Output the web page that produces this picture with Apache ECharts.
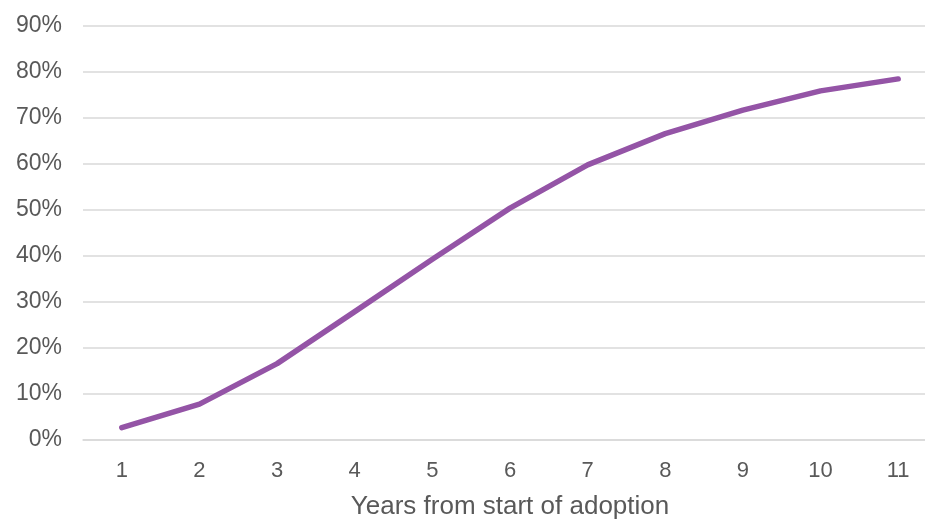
<!DOCTYPE html>
<html>
<head>
<meta charset="utf-8">
<script src="https://cdn.jsdelivr.net/npm/echarts@6/dist/echarts.min.js"></script>
<style>
html,body{margin:0;padding:0;background:#fff;}
#chart{width:925px;height:519px;}
</style>
</head>
<body>
<div id="chart"></div>
<script>
var categories = ['1','2','3','4','5','6','7','8','9','10','11'];
var adoption = [2.7, 7.8, 16.6, 27.9, 39.3, 50.4, 59.8, 66.6, 71.7, 75.9, 78.5];
var xAxisTitle = 'Years from start of adoption';

var chart = echarts.init(document.getElementById('chart'), null, {renderer: 'canvas'});
chart.setOption({
  animation: false,
  backgroundColor: '#ffffff',
  grid: {left: 83, width: 854, top: 26, bottom: 79, containLabel: false, outerBoundsMode: 'none'},
  xAxis: {
    type: 'category',
    data: categories,
    boundaryGap: true,
    name: xAxisTitle,
    nameLocation: 'middle',
    nameGap: 54,
    nameTextStyle: {fontFamily: 'Liberation Sans, Arial, sans-serif', fontSize: 26, color: '#595959'},
    axisLine: {show: true, lineStyle: {color: '#d9d9d9', width: 1.5}},
    axisTick: {show: false},
    axisLabel: {fontFamily: 'Liberation Sans, Arial, sans-serif', fontSize: 22, color: '#595959', margin: 20}
  },
  yAxis: {
    type: 'value',
    min: 0,
    max: 90,
    interval: 10,
    axisLine: {show: false},
    axisTick: {show: false},
    splitLine: {show: true, lineStyle: {color: '#d9d9d9', width: 1.5}},
    axisLabel: {fontFamily: 'Liberation Sans, Arial, sans-serif', fontSize: 23, color: '#595959', margin: 21,
      formatter: function(v){ return v + '%'; }}
  },
  series: [{
    type: 'line',
    data: adoption,
    symbol: 'none',
    smooth: false,
    lineStyle: {color: '#9454a6', width: 5.5, cap: 'round', join: 'round'},
    itemStyle: {color: '#9454a6'}
  }]
});
</script>
</body>
</html>
